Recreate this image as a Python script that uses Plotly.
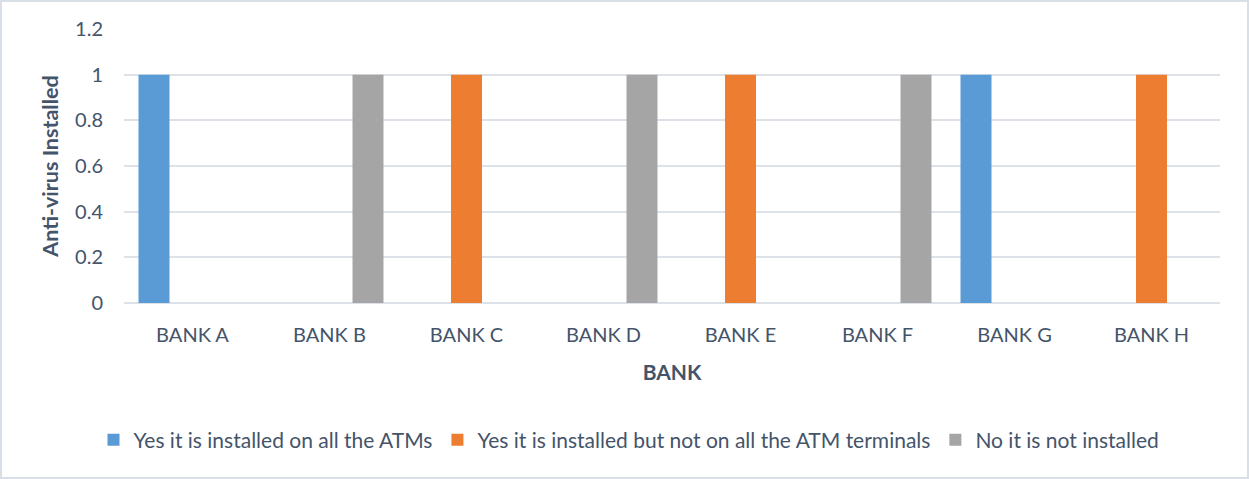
import plotly.graph_objects as go

# Survey results: anti-virus status on ATMs per bank
banks = ["BANK A", "BANK B", "BANK C", "BANK D", "BANK E", "BANK F", "BANK G", "BANK H"]
installed_all = [1, 0, 0, 0, 0, 0, 1, 0]
installed_partial = [0, 0, 1, 0, 1, 0, 0, 1]
not_installed = [0, 1, 0, 1, 0, 1, 0, 0]

series_names = [
    "Yes it is installed on all the ATMs",
    "Yes it is installed but not on all the ATM terminals",
    "No it is not installed",
]
series_values = [installed_all, installed_partial, not_installed]
series_colors = ["#5b9bd5", "#ed7d31", "#a5a5a5"]

y_ticks = [0, 0.2, 0.4, 0.6, 0.8, 1, 1.2]
y_tick_text = ["0", "0.2", "0.4", "0.6", "0.8", "1", "1.2"]

W, H = 1249, 479
M = dict(l=124, r=29, t=29, b=176)
TEXT = "#44546a"
FONT = "Lato"

fig = go.Figure()
for name, vals, col in zip(series_names, series_values, series_colors):
    fig.add_trace(go.Bar(x=banks, y=vals, name=name, marker=dict(color=col, line=dict(width=0))))

pw = W - M["l"] - M["r"]
ph = H - M["t"] - M["b"]

fig.update_layout(
    width=W,
    height=H,
    margin=M,
    paper_bgcolor="white",
    plot_bgcolor="white",
    barmode="group",
    bargap=0.157,
    bargroupgap=0.195,
    font=dict(family=FONT, size=20, color=TEXT),
    showlegend=True,
    legend=dict(
        orientation="h",
        x=(629 - M["l"]) / pw,
        xanchor="center",
        y=-(440 - M["t"] - ph) / ph,
        yanchor="middle",
        font=dict(family=FONT, size=21, color=TEXT),
        itemsizing="constant",
        bgcolor="rgba(0,0,0,0)",
    ),
    xaxis=dict(
        showgrid=False,
        showline=False,
        ticks="",
        tickfont=dict(family=FONT, size=20, color=TEXT),
        ticklabelstandoff=18,
        title=dict(text="<b>BANK</b>", font=dict(family=FONT, size=21, color=TEXT), standoff=20),
        automargin=False,
    ),
    yaxis=dict(
        range=[0, 1.2],
        tickvals=y_ticks,
        ticktext=y_tick_text,
        showgrid=True,
        gridcolor="#dde2e8",
        gridwidth=1.5,
        zeroline=True,
        zerolinecolor="#dde2e8",
        zerolinewidth=1.5,
        showline=False,
        ticks="",
        tickfont=dict(family=FONT, size=20, color=TEXT),
        ticklabelstandoff=20,
        title=dict(text="<b>Anti-virus Installed</b>", font=dict(family=FONT, size=21.5, color=TEXT), standoff=10),
        automargin=False,
    ),
)

# Thin frame around the whole chart
fig.add_shape(
    type="rect",
    xref="paper",
    yref="paper",
    x0=-(M["l"] - 1) / pw,
    x1=1 + (M["r"] - 1) / pw,
    y0=-(M["b"] - 1) / ph,
    y1=1 + (M["t"] - 1) / ph,
    line=dict(color="#d9dfe6", width=2),
    fillcolor="rgba(0,0,0,0)",
    layer="below",
)

fig.write_html("out.html")
